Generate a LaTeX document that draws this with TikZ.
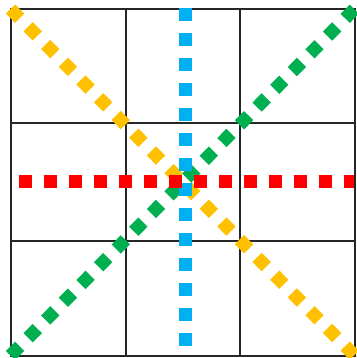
\documentclass[tikz,border=0pt]{standalone}
\usetikzlibrary{calc}
\definecolor{cRed}{HTML}{FF0000}
\definecolor{cBlue}{HTML}{00B0F0}
\definecolor{cOrange}{HTML}{FFC000}
\definecolor{cGreen}{HTML}{00B050}
\tikzset{
  gridline/.style={line width=2pt, draw=black!85},
  dotline/.style={line width=13pt, line cap=butt, dash pattern=on 13pt off 12pt},
}
\begin{document}
\begin{tikzpicture}[x=1pt,y=-1pt]
\useasboundingbox (0,0) rectangle (356,358);
\coordinate (TL) at (10.5,9);
\coordinate (BR) at (354.5,355.5);
\coordinate (BL) at (10.5,355.5);
\coordinate (TR) at (354.5,9);
% grid
\draw[gridline] (TL) rectangle (BR);
\draw[gridline] (126,9) -- (126,355.5);
\draw[gridline] (240,9) -- (240,355.5);
\draw[gridline] (10.5,123) -- (354.5,123);
\draw[gridline] (10.5,241) -- (354.5,241);
% dotted lines
\draw[dotline, draw=cOrange] (TL) -- (BR);
\draw[dotline, draw=cGreen] (BL) -- (TR);
\draw[dotline, draw=cBlue] (185,8) -- (185,355);
\draw[dotline, draw=cRed] (18.5,181.5) -- (354,181.5);
\end{tikzpicture}
\end{document}
